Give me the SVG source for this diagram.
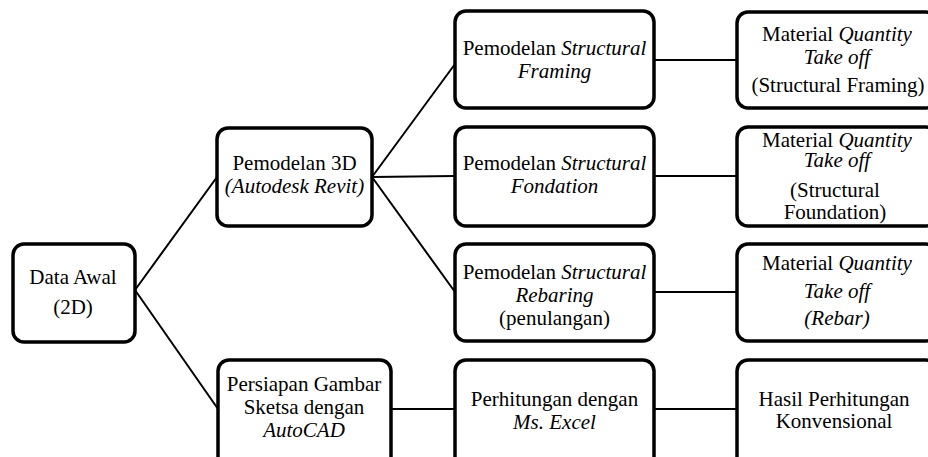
<svg xmlns="http://www.w3.org/2000/svg" width="928" height="457" viewBox="0 0 928 457">
<style>
.box{fill:#fff;stroke:#000;stroke-width:3.5}
.ln{stroke:#000;stroke-width:2;fill:none}
text{font-family:"Liberation Serif","Times New Roman",serif;font-size:21px;fill:#000;text-anchor:middle}
.i{font-style:italic}
</style>
<rect width="928" height="457" fill="#fff"/>
<g id="connectors">
<line class="ln" x1="135" y1="290" x2="217" y2="177"/>
<line class="ln" x1="135" y1="290" x2="218" y2="409"/>
<line class="ln" x1="372" y1="177" x2="455" y2="64"/>
<line class="ln" x1="372" y1="177" x2="455" y2="176"/>
<line class="ln" x1="372" y1="177" x2="455" y2="292"/>
<line class="ln" x1="654" y1="60" x2="737" y2="60"/>
<line class="ln" x1="654" y1="176" x2="737" y2="176"/>
<line class="ln" x1="654" y1="292" x2="737" y2="292"/>
<line class="ln" x1="391" y1="409" x2="455" y2="409"/>
<line class="ln" x1="654" y1="409" x2="737" y2="409"/>
</g>
<g id="data-awal">
<rect class="box" x="13" y="244" width="122" height="98" rx="11"/>
<text x="73" y="284">Data Awal</text>
<text x="73" y="314">(2D)</text>
</g>
<g id="pemodelan-3d">
<rect class="box" x="217" y="128" width="155" height="98" rx="11"/>
<text x="294.5" y="170">Pemodelan 3D</text>
<text x="294.5" y="193" class="i">(Autodesk Revit)</text>
</g>
<g id="persiapan">
<rect class="box" x="218" y="360" width="173" height="110" rx="11"/>
<text x="304" y="391">Persiapan Gambar</text>
<text x="304" y="414">Sketsa dengan</text>
<text x="304" y="437" class="i">AutoCAD</text>
</g>
<g id="model-framing">
<rect class="box" x="455" y="11" width="199" height="97" rx="11"/>
<text x="554.5" y="55">Pemodelan <tspan class="i">Structural</tspan></text>
<text x="554.5" y="78" class="i">Framing</text>
</g>
<g id="model-fondation">
<rect class="box" x="455" y="127" width="199" height="99" rx="11"/>
<text x="554.5" y="170">Pemodelan <tspan class="i">Structural</tspan></text>
<text x="554.5" y="193" class="i">Fondation</text>
</g>
<g id="model-rebaring">
<rect class="box" x="455" y="244" width="199" height="97" rx="11"/>
<text x="554.5" y="279">Pemodelan <tspan class="i">Structural</tspan></text>
<text x="554.5" y="302" class="i">Rebaring</text>
<text x="554.5" y="325">(penulangan)</text>
</g>
<g id="perhitungan-excel">
<rect class="box" x="455" y="360" width="199" height="110" rx="11"/>
<text x="554.5" y="406">Perhitungan dengan</text>
<text x="554.5" y="429" class="i">Ms. Excel</text>
</g>
<g id="mto-framing">
<rect class="box" x="737" y="12" width="200" height="96" rx="11"/>
<text x="837" y="41">Material <tspan class="i">Quantity</tspan></text>
<text x="837" y="64" class="i">Take off</text>
<text x="838" y="92">(Structural Framing)</text>
</g>
<g id="mto-foundation">
<rect class="box" x="737" y="127" width="200" height="99" rx="11"/>
<text x="837" y="147">Material <tspan class="i">Quantity</tspan></text>
<text x="837" y="167" class="i">Take off</text>
<text x="835" y="197">(Structural</text>
<text x="835" y="219">Foundation)</text>
</g>
<g id="mto-rebar">
<rect class="box" x="737" y="244" width="200" height="97" rx="11"/>
<text x="837" y="270">Material <tspan class="i">Quantity</tspan></text>
<text x="837" y="298" class="i">Take off</text>
<text x="837" y="325" class="i">(Rebar)</text>
</g>
<g id="hasil-konvensional">
<rect class="box" x="737" y="360" width="200" height="110" rx="11"/>
<text x="834" y="406">Hasil Perhitungan</text>
<text x="834" y="428">Konvensional</text>
</g>
</svg>
